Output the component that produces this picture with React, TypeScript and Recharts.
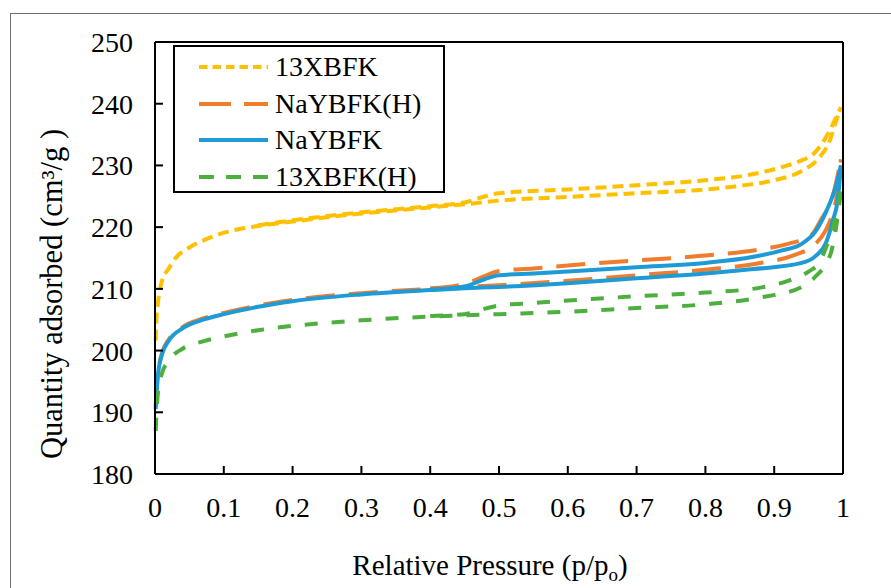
import React from 'react';
import { LineChart, Line, XAxis, YAxis, Legend, Label } from 'recharts';

const FONT = 'Liberation Serif, DejaVu Serif, serif';

const pressureTicks = [0, 0.1, 0.2, 0.3, 0.4, 0.5, 0.6, 0.7, 0.8, 0.9, 1];
const quantityTicks = [180, 190, 200, 210, 220, 230, 240, 250];

// [p/p0, quantity] pairs
// adsorption = lower branch, desorption = upper branch of the loop
const x13Ads = [
  [0.001, 201.6], [0.002, 205], [0.004, 207.5], [0.01, 211.2], [0.02, 213.3], [0.03, 215], [0.05, 216.7],
  [0.08, 218.3], [0.1, 219.1], [0.15, 220.2], [0.2, 220.9], [0.25, 221.6], [0.3, 222.2], [0.35, 222.7],
  [0.4, 223.2], [0.45, 223.7], [0.5, 224.3], [0.6, 224.9], [0.7, 225.5], [0.8, 226.1], [0.85, 226.7],
  [0.9, 227.6], [0.94, 229.1], [0.965, 231.2], [0.98, 233.8], [0.99, 237.2], [0.997, 239.4],
];
const x13Des = [
  [0.15, 220.3], [0.2, 221.1], [0.3, 222.4], [0.4, 223.4], [0.45, 224], [0.48, 225], [0.5, 225.5],
  [0.6, 226.1], [0.7, 226.8], [0.8, 227.6], [0.87, 228.6], [0.91, 229.7], [0.935, 230.6], [0.96, 232.2],
  [0.98, 235.5], [0.99, 237.8], [0.997, 239.4],
];

const naYHAds = [
  [0.001, 191], [0.004, 196], [0.01, 199.5], [0.02, 201.8], [0.04, 203.8], [0.07, 205.2], [0.1, 206.1],
  [0.15, 207.3], [0.2, 208.2], [0.3, 209.3], [0.4, 210], [0.45, 210.3], [0.5, 210.6], [0.6, 211.3],
  [0.7, 212.2], [0.8, 213.1], [0.88, 214.2], [0.93, 215.5], [0.958, 217.1], [0.975, 219.5], [0.985, 222.3],
  [0.993, 226.5], [0.997, 231],
];
const naYHDes = [
  [0.4, 210.1], [0.45, 210.8], [0.48, 212.1], [0.5, 212.9], [0.55, 213.3], [0.6, 213.8], [0.7, 214.6],
  [0.8, 215.4], [0.88, 216.4], [0.92, 217.3], [0.953, 218.6], [0.968, 221.2], [0.985, 225], [0.997, 231],
];

const naYAds = [
  [0.001, 190.5], [0.004, 195.8], [0.01, 199.3], [0.02, 201.6], [0.04, 203.6], [0.07, 205], [0.1, 205.9],
  [0.15, 207.1], [0.2, 208], [0.3, 209.1], [0.4, 209.8], [0.45, 210.1], [0.5, 210.3], [0.6, 210.9],
  [0.7, 211.7], [0.8, 212.5], [0.87, 213.2], [0.94, 214.2], [0.96, 215.3], [0.975, 217.4], [0.985, 221],
  [0.993, 225], [0.997, 230],
];
const naYDes = [
  [0.4, 209.9], [0.45, 210.4], [0.48, 211.6], [0.5, 212.2], [0.55, 212.5], [0.6, 212.8], [0.7, 213.5],
  [0.8, 214.2], [0.87, 215.2], [0.91, 216.2], [0.94, 217.3], [0.96, 219.3], [0.975, 222.4], [0.99, 226.8],
  [0.997, 230],
];

const x13HAds = [
  [0.001, 187], [0.003, 191.5], [0.006, 194.5], [0.01, 196.3], [0.02, 198.4], [0.04, 200.3], [0.07, 201.5],
  [0.1, 202.3], [0.15, 203.3], [0.2, 204], [0.3, 204.9], [0.4, 205.5], [0.45, 205.7], [0.5, 205.9],
  [0.6, 206.3], [0.7, 206.9], [0.8, 207.5], [0.88, 208.6], [0.94, 210.3], [0.96, 212], [0.982, 215.7],
  [0.992, 221.5], [0.997, 226],
];
const x13HDes = [
  [0.4, 205.6], [0.45, 205.9], [0.48, 206.8], [0.5, 207.3], [0.55, 207.7], [0.6, 208.1], [0.7, 208.8],
  [0.8, 209.4], [0.88, 210.2], [0.92, 211.3], [0.95, 212.8], [0.965, 214.2], [0.978, 217.5], [0.99, 222],
  [0.997, 226],
];

const toPoints = (pairs: number[][]) => pairs.map(([p, q]) => ({ p, q }));

const SERIES = [
  { name: '13XBFK', color: '#FFC000', dash: '11 6', legendDash: '8.5 5', ads: x13Ads, des: x13Des },
  { name: 'NaYBFK(H)', color: '#F07D2D', dash: '29 14', legendDash: '32 13', ads: naYHAds, des: naYHDes },
  { name: 'NaYBFK', color: '#1E9BD7', dash: undefined, legendDash: undefined, ads: naYAds, des: naYDes },
  { name: '13XBFK(H)', color: '#4CAF3E', dash: '13 14', legendDash: '15 12', ads: x13HAds, des: x13HDes },
];

function IsoLegend() {
  return (
    <div
      style={{
        position: 'relative',
        width: 272,
        height: 148,
        boxSizing: 'border-box',
        border: '2px solid #000',
        background: '#fff',
        fontFamily: FONT,
        fontSize: 28,
        color: '#000',
      }}
    >
      {SERIES.map((s, i) => (
        <div
          key={s.name}
          style={{ position: 'absolute', left: 0, top: 2 + i * 36.7, height: 36, display: 'flex', alignItems: 'center' }}
        >
          <svg width={100} height={36} style={{ display: 'block' }}>
            <line x1={24} x2={93} y1={18} y2={18} stroke={s.color} strokeWidth={4} strokeDasharray={s.legendDash} />
          </svg>
          <span style={{ lineHeight: '36px', whiteSpace: 'nowrap' }}>{s.name}</span>
        </div>
      ))}
    </div>
  );
}

const TICK_GAP_X = 23;
const TICK_GAP_Y = 22;
const TICK_LEN = 8;

// Excel style: tick marks point into the plot, labels sit outside
function PressureTick({ x, y, payload }: any) {
  return (
    <g>
      <line x1={x} x2={x} y1={y - TICK_GAP_X} y2={y - TICK_GAP_X - TICK_LEN} stroke="#000" strokeWidth={2} />
      <text x={x} y={y} dy="0.71em" textAnchor="middle" fontFamily={FONT} fontSize={28} fill="#000">
        {payload.value}
      </text>
    </g>
  );
}

function QuantityTick({ x, y, payload }: any) {
  return (
    <g>
      <line x1={x + TICK_GAP_Y} x2={x + TICK_GAP_Y + TICK_LEN} y1={y} y2={y} stroke="#000" strokeWidth={2} />
      <text x={x} y={y} dy="0.355em" textAnchor="end" fontFamily={FONT} fontSize={28} fill="#000">
        {payload.value}
      </text>
    </g>
  );
}

export default function App() {
  return (
    <div style={{ position: 'fixed', left: 0, top: 0, width: 891, height: 588, overflow: 'hidden', background: '#fff' }}>
      <div
        style={{ position: 'absolute', left: 10, top: 13, width: 920, height: 620, border: '1px solid #6f6f6f' }}
      />
      <div style={{ position: 'absolute', left: 0, top: 0 }}>
        <LineChart width={891} height={588} margin={{ top: 42, right: 48, bottom: 0, left: 0 }}>
          <XAxis
            dataKey="p"
            type="number"
            domain={[0, 1]}
            ticks={pressureTicks}
            interval={0}
            tickSize={0}
            tickMargin={TICK_GAP_X}
            tickLine={false}
            axisLine={{ stroke: '#000', strokeWidth: 2 }}
            tick={PressureTick}
            height={114}
          >
            <Label
              content={() => (
                <text x={490} y={575} textAnchor="middle" fontFamily={FONT} fontSize={29} fill="#000">
                  Relative Pressure (p/p
                  <tspan fontSize={19} dy={6}>o</tspan>
                  <tspan dy={-6}>)</tspan>
                </text>
              )}
            />
          </XAxis>
          <YAxis
            type="number"
            domain={[180, 250]}
            ticks={quantityTicks}
            interval={0}
            tickSize={0}
            tickMargin={TICK_GAP_Y}
            tickLine={false}
            axisLine={{ stroke: '#000', strokeWidth: 2 }}
            tick={QuantityTick}
            width={155}
          >
            <Label
              content={() => (
                <text
                  x={52}
                  y={294}
                  transform="rotate(-90 52 294)"
                  textAnchor="middle"
                  dominantBaseline="central"
                  fontFamily={FONT}
                  fontSize={30.5}
                  fill="#000"
                >
                  Quantity adsorbed (cm³/g )
                </text>
              )}
            />
          </YAxis>
          {/* top/right frame of the plot area */}
          <XAxis
            xAxisId="top"
            orientation="top"
            mirror
            type="number"
            domain={[0, 1]}
            tick={false}
            tickLine={false}
            axisLine={{ stroke: '#000', strokeWidth: 2 }}
          />
          <YAxis
            yAxisId="right"
            orientation="right"
            mirror
            type="number"
            domain={[180, 250]}
            tick={false}
            tickLine={false}
            axisLine={{ stroke: '#000', strokeWidth: 2 }}
          />
          <Legend
            layout="vertical"
            align="center"
            verticalAlign="middle"
            wrapperStyle={{ left: 173, top: 45, width: 272, height: 148 }}
            content={() => <IsoLegend />}
          />
          {SERIES.map((s) => [
            <Line
              key={`${s.name}-ads`}
              name={s.name}
              data={toPoints(s.ads)}
              dataKey="q"
              type="monotone"
              stroke={s.color}
              strokeWidth={4}
              strokeDasharray={s.dash}
              dot={false}
              activeDot={false}
              legendType="none"
              isAnimationActive={false}
            />,
            <Line
              key={`${s.name}-des`}
              name={`${s.name} des`}
              data={toPoints(s.des)}
              dataKey="q"
              type="monotone"
              stroke={s.color}
              strokeWidth={4}
              strokeDasharray={s.dash}
              dot={false}
              activeDot={false}
              legendType="none"
              isAnimationActive={false}
            />,
          ])}
        </LineChart>
      </div>
    </div>
  );
}
